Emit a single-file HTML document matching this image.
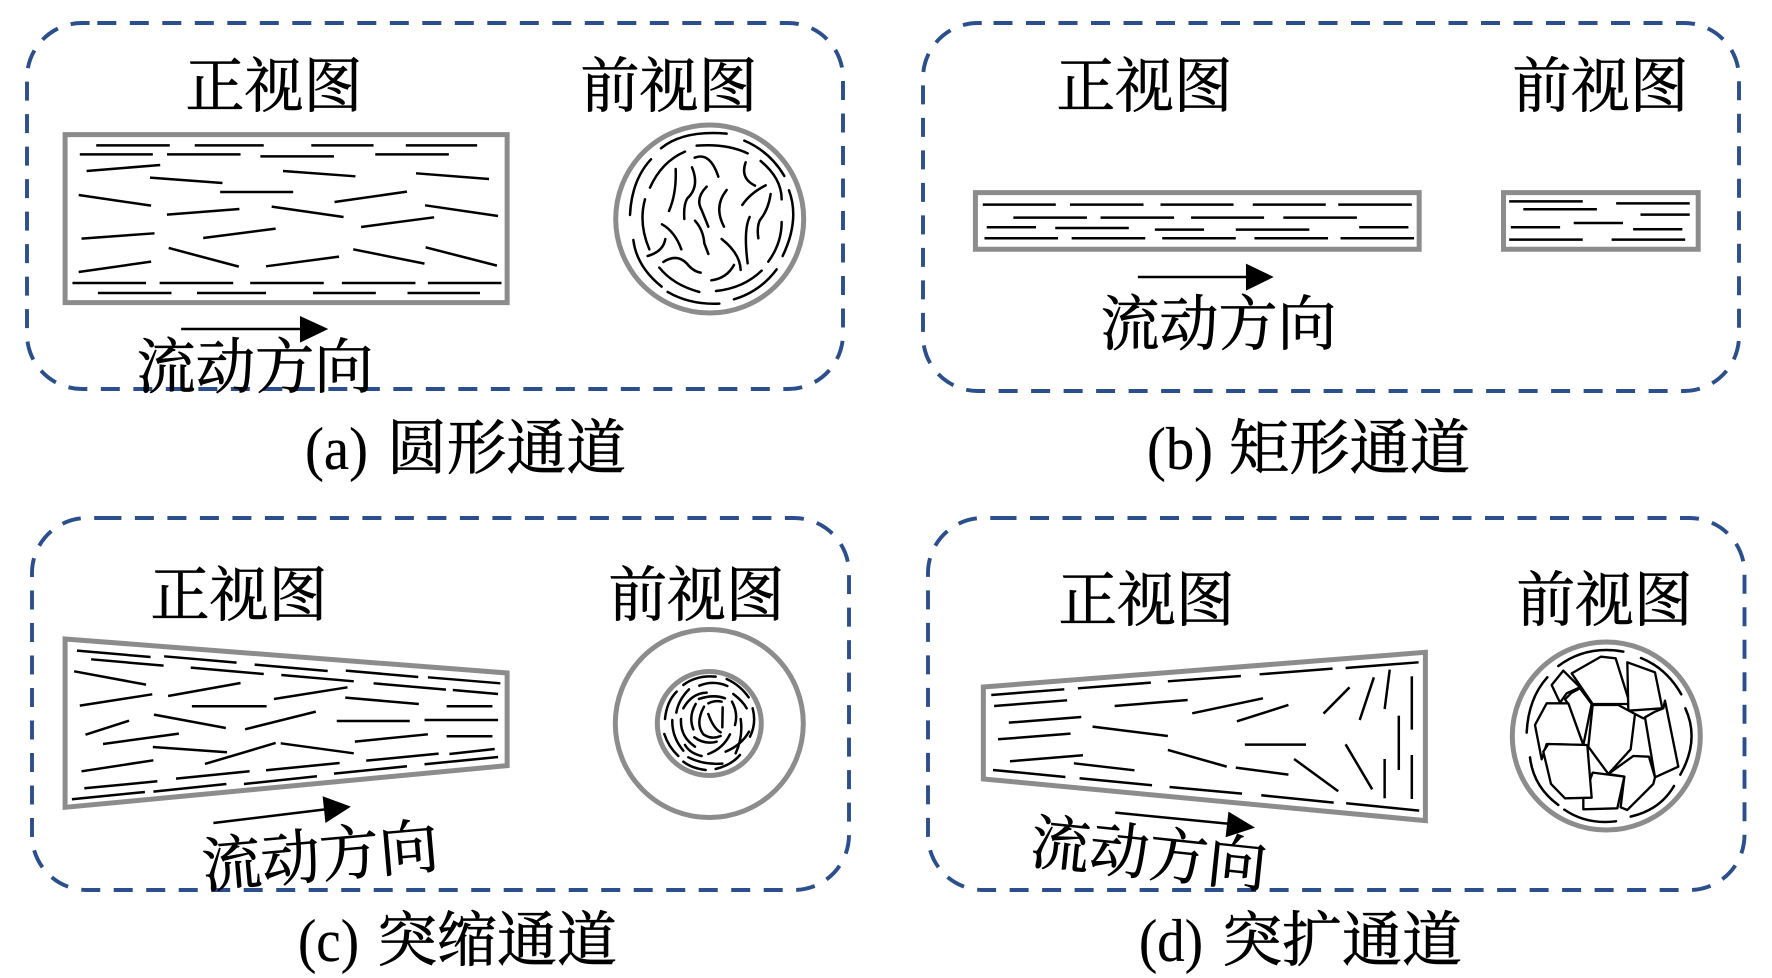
<!DOCTYPE html>
<html>
<head>
<meta charset="utf-8">
<style>
html,body{margin:0;padding:0;background:#fff;width:1772px;height:978px;overflow:hidden}
svg{display:block;filter:blur(.35px)}
text{font-family:"Noto Serif CJK SC","Liberation Serif",serif;font-size:60px;fill:#000;stroke:#000;stroke-width:.7}
text.l{font-family:"Liberation Serif",serif;font-size:60px;font-weight:400;stroke-width:.2}
.box{fill:none;stroke:#2b4e8d;stroke-width:3.9;stroke-dasharray:19 13.5}
.g line,.g path,.g polygon,.g rect,.g circle{vector-effect:non-scaling-stroke}
.w{fill:none;stroke:#8c8c8c;stroke-width:5}
.f line{stroke:#000;stroke-width:2.5}
.f path{fill:none;stroke:#000;stroke-width:1.9;stroke-linecap:round}
.f polygon{fill:#fff;stroke:#000;stroke-width:1.9;stroke-linejoin:round}
polygon.h{fill:#000;stroke:none}
.c{fill:none;stroke:#8c8c8c;stroke-width:5}
</style>
</head>
<body>
<svg width="1772" height="978" viewBox="0 0 1772 978" xmlns="http://www.w3.org/2000/svg">
<rect width="1772" height="978" fill="#fff"/>

<!-- dashed frames -->
<path class="box" d="M97.3,23 H787 A55,55 0 0 1 843,78 V334 A55,55 0 0 1 787,389 H82 A55,55 0 0 1 27,334 V78 A55,55 0 0 1 82,23 Z"/>
<path class="box" d="M993.5,23 H1684 A55,55 0 0 1 1739,78 V336 A55,55 0 0 1 1684,391 H978 A55,55 0 0 1 923,336 V78 A55,55 0 0 1 978,23 Z"/>
<path class="box" d="M102.4,518 H794 A55,55 0 0 1 849,573 V835 A55,55 0 0 1 794,890 H87 A55,55 0 0 1 32,835 V573 A55,55 0 0 1 87,518 Z"/>
<path class="box" d="M997.5,518 H1689.5 A55,55 0 0 1 1744.5,573 V835 A55,55 0 0 1 1689.5,890 H983 A55,55 0 0 1 928,835 V573 A55,55 0 0 1 983,518 Z"/>

<!-- (a) front view -->
<g class="g f" transform="scale(.566,.3333)">
<rect class="w" x="115" y="404" width="781" height="504"/>
<line x1="170" y1="436" x2="300" y2="436"/><line x1="344" y1="436" x2="466" y2="436"/><line x1="550" y1="436" x2="660" y2="436"/><line x1="717" y1="436" x2="843" y2="436"/>
<line x1="141" y1="463" x2="270" y2="463"/><line x1="295" y1="463" x2="425" y2="463"/><line x1="460" y1="469" x2="590" y2="469"/><line x1="663" y1="463" x2="793" y2="463"/>
<line x1="153" y1="513" x2="283" y2="495"/><line x1="500" y1="513" x2="628" y2="529"/><line x1="735" y1="520" x2="864" y2="537"/><line x1="265" y1="533" x2="393" y2="549"/>
<line x1="389" y1="576" x2="518" y2="576"/><line x1="139" y1="585" x2="267" y2="617"/><line x1="591" y1="606" x2="719" y2="575"/><line x1="295" y1="644" x2="423" y2="627"/><line x1="480" y1="620" x2="607" y2="651"/><line x1="751" y1="616" x2="880" y2="648"/><line x1="638" y1="681" x2="767" y2="652"/>
<line x1="144" y1="716" x2="273" y2="700"/><line x1="359" y1="714" x2="487" y2="686"/><line x1="298" y1="744" x2="422" y2="800"/><line x1="470" y1="799" x2="599" y2="770"/><line x1="624" y1="748" x2="750" y2="791"/><line x1="752" y1="742" x2="878" y2="797"/><line x1="139" y1="816" x2="267" y2="785"/>
<line x1="128" y1="849" x2="258" y2="849"/><line x1="282" y1="849" x2="412" y2="849"/><line x1="442" y1="849" x2="572" y2="849"/><line x1="604" y1="849" x2="734" y2="849"/><line x1="756" y1="849" x2="886" y2="849"/>
<line x1="173" y1="879" x2="303" y2="879"/><line x1="348" y1="879" x2="470" y2="879"/><line x1="553" y1="879" x2="664" y2="879"/><line x1="720" y1="879" x2="848" y2="879"/>
<line x1="320" y1="987" x2="535" y2="987"/><polygon class="h" points="530,948 580,987 530,1028"/>
</g>

<!-- (a) section -->
<circle class="c" cx="709.7" cy="219" r="94"/>
<g class="f" transform="translate(600,110) scale(.3333)">
<path style="stroke-width:7.5" d="M183,115 Q250,60 380,71M433,92 Q510,125 553,198M153,148 Q95,210 90,315M567,241 Q600,330 548,438M100,390 Q110,470 185,530M530,478 Q480,545 402,568M203,546 Q270,585 358,581M290,107 Q380,100 443,130M255,125 Q185,155 150,233M482,153 Q545,205 545,268M135,268 Q115,340 148,418M545,336 Q545,400 505,455M178,473 Q220,525 298,546M485,482 Q430,535 348,543M284,143 Q330,125 355,200M437,157 Q420,205 465,227M227,177 Q230,250 207,303M276,172 Q300,230 262,265 Q250,285 253,327M320,230 Q285,265 305,300 L325,350M380,240 Q340,290 372,350M497,226 Q450,250 427,285M512,252 Q505,300 480,330 Q470,350 475,385M449,321 Q430,360 443,460M285,332 Q310,360 313,400 L325,432M186,343 Q225,365 244,418M196,387 Q190,425 143,438M365,387 Q420,430 422,480M190,456 Q230,430 260,460 Q280,485 302,488M402,465 Q380,505 334,511"/>
</g>

<!-- (b) -->
<g class="g f" transform="translate(886,0) scale(.566,.3333)">
<rect class="w" x="158" y="578" width="784" height="170"/>
<rect class="w" x="1091" y="578" width="344" height="170"/>
<line x1="171" y1="614" x2="300" y2="614"/><line x1="325" y1="614" x2="455" y2="614"/><line x1="485" y1="614" x2="614" y2="614"/><line x1="648" y1="614" x2="777" y2="614"/><line x1="799" y1="614" x2="929" y2="614"/>
<line x1="225" y1="653" x2="355" y2="653"/><line x1="379" y1="653" x2="509" y2="653"/><line x1="539" y1="653" x2="668" y2="653"/><line x1="702" y1="653" x2="832" y2="653"/>
<line x1="178" y1="682" x2="265" y2="682"/><line x1="299" y1="684" x2="429" y2="684"/><line x1="475" y1="689" x2="562" y2="689"/><line x1="618" y1="689" x2="748" y2="689"/><line x1="836" y1="682" x2="923" y2="682"/>
<line x1="174" y1="715" x2="304" y2="715"/><line x1="328" y1="715" x2="458" y2="715"/><line x1="488" y1="715" x2="618" y2="715"/><line x1="651" y1="715" x2="781" y2="715"/><line x1="803" y1="715" x2="933" y2="715"/>
<line x1="1101" y1="604" x2="1231" y2="604"/><line x1="1290" y1="610" x2="1420" y2="610"/><line x1="1126" y1="628" x2="1256" y2="628"/><line x1="1333" y1="644" x2="1420" y2="644"/><line x1="1215" y1="669" x2="1302" y2="669"/><line x1="1104" y1="682" x2="1191" y2="682"/><line x1="1320" y1="688" x2="1407" y2="688"/><line x1="1101" y1="719" x2="1231" y2="719"/><line x1="1282" y1="719" x2="1412" y2="719"/>
<line x1="445" y1="831" x2="640" y2="831"/><polygon class="h" points="636,791 685,831 636,872"/>
</g>

<!-- (c) front view -->
<g class="g f" transform="translate(0,489) scale(.566,.3333)">
<polygon style="fill:none;stroke:#8c8c8c;stroke-width:5;stroke-linejoin:miter" points="115,450 896,552 896,830 115,955"/>
<line x1="136" y1="485" x2="266" y2="504"/><line x1="161" y1="511" x2="289" y2="530"/><line x1="290" y1="502" x2="418" y2="521"/><line x1="337" y1="536" x2="466" y2="555"/><line x1="450" y1="527" x2="579" y2="546"/><line x1="497" y1="558" x2="625" y2="577"/><line x1="611" y1="545" x2="739" y2="564"/><line x1="660" y1="583" x2="788" y2="602"/><line x1="756" y1="565" x2="884" y2="583"/><line x1="800" y1="603" x2="880" y2="615"/>
<line x1="131" y1="547" x2="258" y2="587"/><line x1="297" y1="621" x2="425" y2="582"/><line x1="141" y1="650" x2="269" y2="616"/><line x1="484" y1="630" x2="614" y2="595"/><line x1="610" y1="626" x2="740" y2="645"/><line x1="339" y1="652" x2="471" y2="652"/><line x1="789" y1="652" x2="870" y2="652"/>
<line x1="272" y1="677" x2="399" y2="717"/><line x1="433" y1="721" x2="558" y2="668"/><line x1="151" y1="737" x2="228" y2="695"/><line x1="595" y1="696" x2="724" y2="696"/><line x1="750" y1="693" x2="880" y2="693"/><line x1="182" y1="765" x2="316" y2="734"/><line x1="627" y1="758" x2="756" y2="736"/><line x1="789" y1="742" x2="870" y2="742"/>
<line x1="270" y1="774" x2="401" y2="790"/><line x1="362" y1="825" x2="487" y2="762"/><line x1="496" y1="763" x2="625" y2="793"/><line x1="144" y1="847" x2="271" y2="814"/><line x1="647" y1="815" x2="775" y2="794"/><line x1="794" y1="795" x2="874" y2="780"/><line x1="750" y1="826" x2="880" y2="804"/>
<line x1="311" y1="869" x2="441" y2="847"/><line x1="470" y1="844" x2="600" y2="822"/><line x1="590" y1="854" x2="719" y2="832"/><line x1="149" y1="898" x2="278" y2="877"/><line x1="271" y1="908" x2="400" y2="885"/><line x1="431" y1="885" x2="560" y2="862"/><line x1="127" y1="931" x2="256" y2="909"/>
<line x1="377" y1="1002" x2="580" y2="960"/><polygon class="h" points="570,922 620,953 575,1002"/>
</g>

<!-- (c) section -->
<circle class="c" cx="709.3" cy="723.5" r="94"/>
<circle class="c" cx="709.3" cy="723.5" r="52"/>
<g class="f" transform="translate(600,620) scale(.3333)">
<path style="stroke-width:7.5" d="M250,195 Q290,165 347,170M380,177 Q420,195 446,232M298,197 Q340,180 382,198M400,222 Q430,245 440,265M230,215 Q200,245 195,297M267,208 Q235,240 229,278M250,265 Q275,220 320,218M297,237 Q340,222 375,235M458,265 Q470,310 450,350M422,297 Q430,350 407,400M396,245 Q415,280 405,315M287,252 Q265,290 280,328M312,260 Q285,310 310,343 Q335,360 362,348M325,282 Q340,325 362,337M368,262 L367,322M325,250 Q345,240 365,245M217,300 Q215,350 250,392M243,297 Q240,350 285,380M193,342 Q205,380 235,408M283,352 Q315,375 350,365M390,343 Q370,385 325,402M447,335 Q425,375 377,395M255,375 Q270,400 305,408M265,412 Q310,435 367,431M420,405 Q395,435 347,447M250,425 Q275,445 317,450"/>
</g>

<!-- (d) front view -->
<g class="g f" transform="translate(886,489) scale(.566,.3333)">
<polygon style="fill:none;stroke:#8c8c8c;stroke-width:5;stroke-linejoin:miter" points="172,594 953,490 953,995 172,870"/>
<line x1="186" y1="618" x2="315" y2="601"/><line x1="339" y1="598" x2="468" y2="581"/><line x1="498" y1="577" x2="627" y2="561"/><line x1="660" y1="556" x2="789" y2="539"/><line x1="812" y1="537" x2="941" y2="520"/>
<line x1="191" y1="651" x2="320" y2="634"/><line x1="404" y1="651" x2="533" y2="633"/><line x1="541" y1="673" x2="666" y2="628"/><line x1="620" y1="697" x2="711" y2="648"/><line x1="773" y1="674" x2="819" y2="595"/><line x1="837" y1="693" x2="862" y2="565"/><line x1="881" y1="660" x2="890" y2="542"/><line x1="929" y1="562" x2="929" y2="722"/><line x1="906" y1="680" x2="906" y2="843"/>
<line x1="217" y1="701" x2="345" y2="684"/><line x1="365" y1="713" x2="498" y2="741"/><line x1="198" y1="751" x2="326" y2="734"/><line x1="634" y1="767" x2="742" y2="767"/><line x1="812" y1="766" x2="859" y2="901"/><line x1="881" y1="810" x2="881" y2="928"/><line x1="929" y1="798" x2="929" y2="930"/><line x1="721" y1="810" x2="799" y2="907"/>
<line x1="219" y1="817" x2="348" y2="799"/><line x1="498" y1="783" x2="602" y2="833"/><line x1="332" y1="823" x2="439" y2="844"/><line x1="618" y1="836" x2="711" y2="857"/>
<line x1="189" y1="843" x2="317" y2="864"/><line x1="342" y1="868" x2="470" y2="889"/><line x1="501" y1="894" x2="629" y2="914"/><line x1="663" y1="919" x2="791" y2="941"/><line x1="813" y1="943" x2="942" y2="965"/>
<line x1="405" y1="971" x2="610" y2="1005"/><polygon class="h" points="605,968 652,1016 600,1045"/>
</g>

<!-- (d) section -->
<circle class="c" cx="1606.3" cy="736" r="94"/>
<g class="f" transform="translate(1500,630) scale(.3333)">
<path style="stroke-width:7.5" d="M175,108 Q260,45 370,65M423,84 Q500,115 544,193M142,142 Q85,205 80,308M556,235 Q600,330 541,434M90,382 Q100,470 175,525M522,468 Q480,540 392,560M193,539 Q260,585 348,574"/>
<polygon style="stroke-width:7" points="155,165 190,122 240,172 200,190 180,218"/>
<polygon style="stroke-width:7" points="195,208 215,188 240,175 275,222 250,345 205,222"/>
<polygon style="stroke-width:7" points="215,130 303,80 347,85 390,222 278,222"/>
<polygon style="stroke-width:7" points="382,97 465,127 487,235 385,242"/>
<polygon style="stroke-width:7" points="140,220 205,220 250,345 140,342 125,388 105,285"/>
<polygon style="stroke-width:7" points="278,225 355,225 405,252 392,358 325,432 265,350"/>
<polygon style="stroke-width:7" points="435,262 465,245 490,235 495,212 535,410 465,442"/>
<polygon style="stroke-width:7" points="325,432 400,378 447,380 465,442 460,462 382,540 362,532 373,440"/>
<polygon style="stroke-width:7" points="278,428 373,440 352,535 250,538 250,505"/>
<polygon style="stroke-width:7" points="145,342 262,345 275,503 195,505 153,462 130,365"/>
<path style="stroke-width:7" d="M405,252 L430,265"/>
</g>

<!-- labels -->
<text x="185.5" y="107" textLength="177" lengthAdjust="spacingAndGlyphs">正视图</text>
<text x="580.5" y="107" textLength="177" lengthAdjust="spacingAndGlyphs">前视图</text>
<text x="136.5" y="388" textLength="237" lengthAdjust="spacingAndGlyphs">流动方向</text>
<text class="l" x="305" y="469" textLength="63" lengthAdjust="spacingAndGlyphs">(a)</text>
<text x="387" y="469" textLength="239" lengthAdjust="spacingAndGlyphs">圆形通道</text>

<text x="1056.5" y="107" textLength="176" lengthAdjust="spacingAndGlyphs">正视图</text>
<text x="1512.5" y="107" textLength="176" lengthAdjust="spacingAndGlyphs">前视图</text>
<text x="1100.5" y="345" textLength="236" lengthAdjust="spacingAndGlyphs">流动方向</text>
<text class="l" x="1147" y="469" textLength="66" lengthAdjust="spacingAndGlyphs">(b)</text>
<text x="1229" y="469" textLength="241" lengthAdjust="spacingAndGlyphs">矩形通道</text>

<text x="150.5" y="616" textLength="177" lengthAdjust="spacingAndGlyphs">正视图</text>
<text x="608.5" y="616" textLength="176" lengthAdjust="spacingAndGlyphs">前视图</text>
<text transform="rotate(-5 320 855)" x="201.5" y="877" textLength="237" lengthAdjust="spacingAndGlyphs">流动方向</text>
<text class="l" x="298" y="961" textLength="61" lengthAdjust="spacingAndGlyphs">(c)</text>
<text x="377" y="961" textLength="240" lengthAdjust="spacingAndGlyphs">突缩通道</text>

<text x="1058.5" y="621" textLength="176" lengthAdjust="spacingAndGlyphs">正视图</text>
<text x="1516.5" y="621" textLength="176" lengthAdjust="spacingAndGlyphs">前视图</text>
<text transform="rotate(6 1149 853)" x="1030.5" y="875" textLength="237" lengthAdjust="spacingAndGlyphs">流动方向</text>
<text class="l" x="1139" y="961" textLength="64" lengthAdjust="spacingAndGlyphs">(d)</text>
<text x="1222" y="961" textLength="240" lengthAdjust="spacingAndGlyphs">突扩通道</text>
</svg>
</body>
</html>
